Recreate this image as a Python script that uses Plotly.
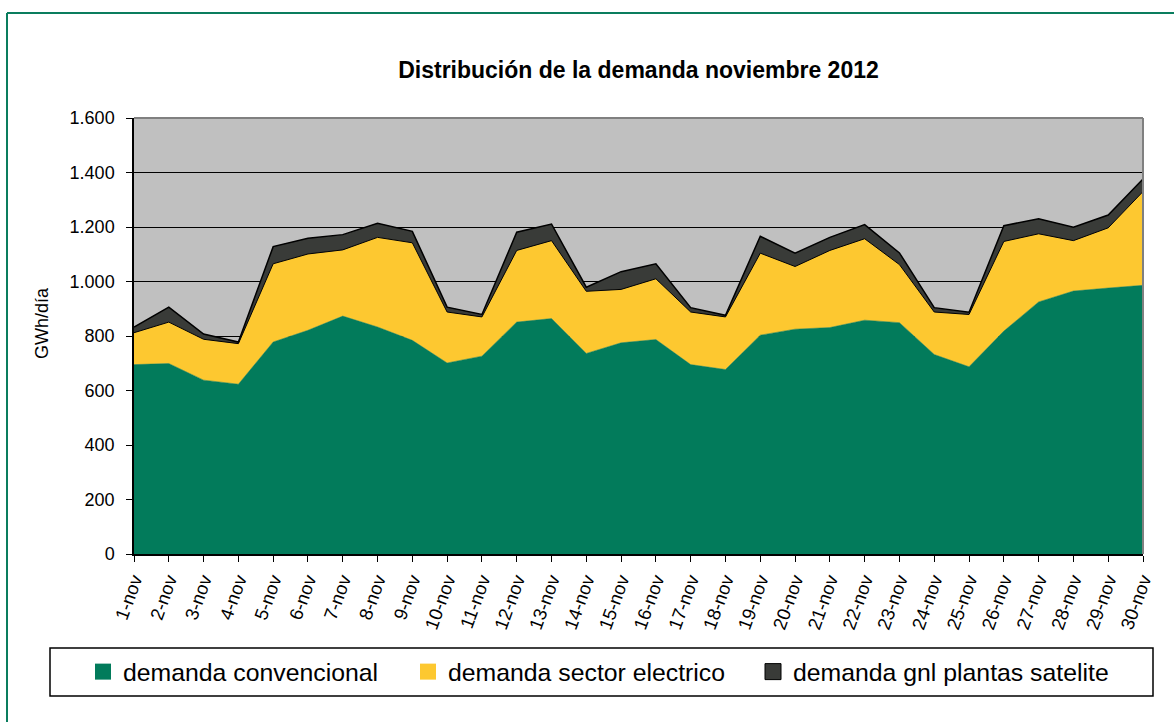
import plotly.graph_objects as go

days = ["1-nov", "2-nov", "3-nov", "4-nov", "5-nov", "6-nov", "7-nov", "8-nov", "9-nov", "10-nov",
        "11-nov", "12-nov", "13-nov", "14-nov", "15-nov", "16-nov", "17-nov", "18-nov", "19-nov", "20-nov",
        "21-nov", "22-nov", "23-nov", "24-nov", "25-nov", "26-nov", "27-nov", "28-nov", "29-nov", "30-nov"]

conv = [695, 699, 638, 623, 778, 821, 873, 833, 784, 701,
        726, 851, 864, 736, 775, 787, 695, 677, 803, 825,
        831, 858, 849, 732, 687, 818, 925, 965, 976, 986]
elec = [117, 152, 150, 149, 287, 280, 243, 329, 358, 187,
        144, 263, 286, 228, 196, 223, 193, 193, 301, 230,
        283, 299, 213, 156, 192, 329, 250, 185, 221, 344]
gnl = [21, 55, 19, 6, 63, 58, 56, 52, 42, 18,
       9, 67, 61, 15, 65, 55, 16, 6, 62, 49,
       48, 52, 43, 16, 8, 58, 55, 49, 47, 46]

names = ["demanda convencional", "demanda sector electrico", "demanda gnl plantas satelite"]
colors = ["#027B5B", "#FDC830", "#393B38"]
title = "Distribución de la demanda noviembre 2012"
ytitle = "GWh/día"

FONT = "Arial, 'Liberation Sans', sans-serif"

# plot area in pixels
L, R, T, B = 134, 1143, 118, 554
W, H = R - L, B - T


def px(x):
    return (x - L) / W


def py(y):
    return (B - y) / H


fig = go.Figure()
series = [conv, elec, gnl]
line_cfg = [dict(color=colors[0], width=0.5), dict(color="black", width=1), dict(color="black", width=1.5)]
for s, n, c, lc in zip(series, names, colors, line_cfg):
    fig.add_trace(go.Scatter(x=days, y=s, name=n, mode="lines", stackgroup="one",
                             fillcolor=c, line=lc, showlegend=False))

# legend entries with square swatches, each in its own legend for placement
marker_lines = [dict(width=0), dict(width=0), dict(color="black", width=1)]
legend_ids = ["legend", "legend2", "legend3"]
for n, c, ml, lg in zip(names, colors, marker_lines, legend_ids):
    fig.add_trace(go.Scatter(x=[None], y=[None], name=n, mode="markers", legend=lg,
                             marker=dict(symbol="square", size=16, color=c, line=ml)))

legend_x = [83, 408, 753]
leg_common = dict(orientation="h", xanchor="left", y=py(672), yanchor="middle",
                  bgcolor="rgba(0,0,0,0)", borderwidth=0,
                  font=dict(family=FONT, size=24.8, color="black"), itemsizing="trace")

fig.update_layout(
    width=1174, height=722,
    margin=dict(l=L, r=1174 - R, t=T, b=722 - B, autoexpand=False),
    paper_bgcolor="white",
    plot_bgcolor="#C0C0C0",
    separators=",.",
    font=dict(family=FONT, color="black", size=18),
    title=dict(text="<b>" + title + "</b>", x=0.5, xref="paper", xanchor="center",
               y=1 - 70 / 722, yref="container", yanchor="middle",
               font=dict(family=FONT, size=23, color="black")),
    showlegend=True,
    legend=dict(x=px(legend_x[0]), **leg_common),
    legend2=dict(x=px(legend_x[1]), **leg_common),
    legend3=dict(x=px(legend_x[2]), **leg_common),
)

fig.update_xaxes(type="category", range=[0, 29], showgrid=False, showline=True, linecolor="black",
                 linewidth=1.5, ticks="outside", ticklen=6, tickcolor="black", tickwidth=1,
                 tickangle=-70, tickfont=dict(family=FONT, size=18.5, color="black"),
                 dtick=1, zeroline=False)
fig.update_yaxes(range=[0, 1600], dtick=200, tickformat=",", showgrid=True, gridcolor="black",
                 gridwidth=1, showline=True, linecolor="black", linewidth=1.5, ticks="outside",
                 ticklen=6, tickcolor="black", tickwidth=1, ticklabelstandoff=8,
                 tickfont=dict(family=FONT, size=18, color="black"), zeroline=False)

shapes = [
    # gray top/right border of plot area
    dict(type="line", xref="paper", yref="paper", x0=0, x1=1, y0=1, y1=1,
         line=dict(color="#808080", width=2), layer="above"),
    dict(type="line", xref="paper", yref="paper", x0=1, x1=1, y0=0, y1=1,
         line=dict(color="#808080", width=2), layer="above"),
    # legend box
    dict(type="rect", xref="paper", yref="paper", x0=px(50), x1=px(1153), y0=py(696), y1=py(648),
         line=dict(color="black", width=1.5), fillcolor="rgba(0,0,0,0)", layer="above"),
    # outer chart border
    dict(type="line", xref="paper", yref="paper", x0=px(7), x1=px(1180), y0=py(13), y1=py(13),
         line=dict(color="#0A7D5E", width=2), layer="above"),
    dict(type="line", xref="paper", yref="paper", x0=px(7), x1=px(7), y0=py(13), y1=py(730),
         line=dict(color="#0A7D5E", width=2), layer="above"),
]
fig.update_layout(shapes=shapes)

fig.add_annotation(text=ytitle, xref="paper", yref="paper", x=px(42), y=py(323),
                   xanchor="center", yanchor="middle", textangle=-90, showarrow=False,
                   font=dict(family=FONT, size=18, color="black"))

fig.write_html("out.html")
